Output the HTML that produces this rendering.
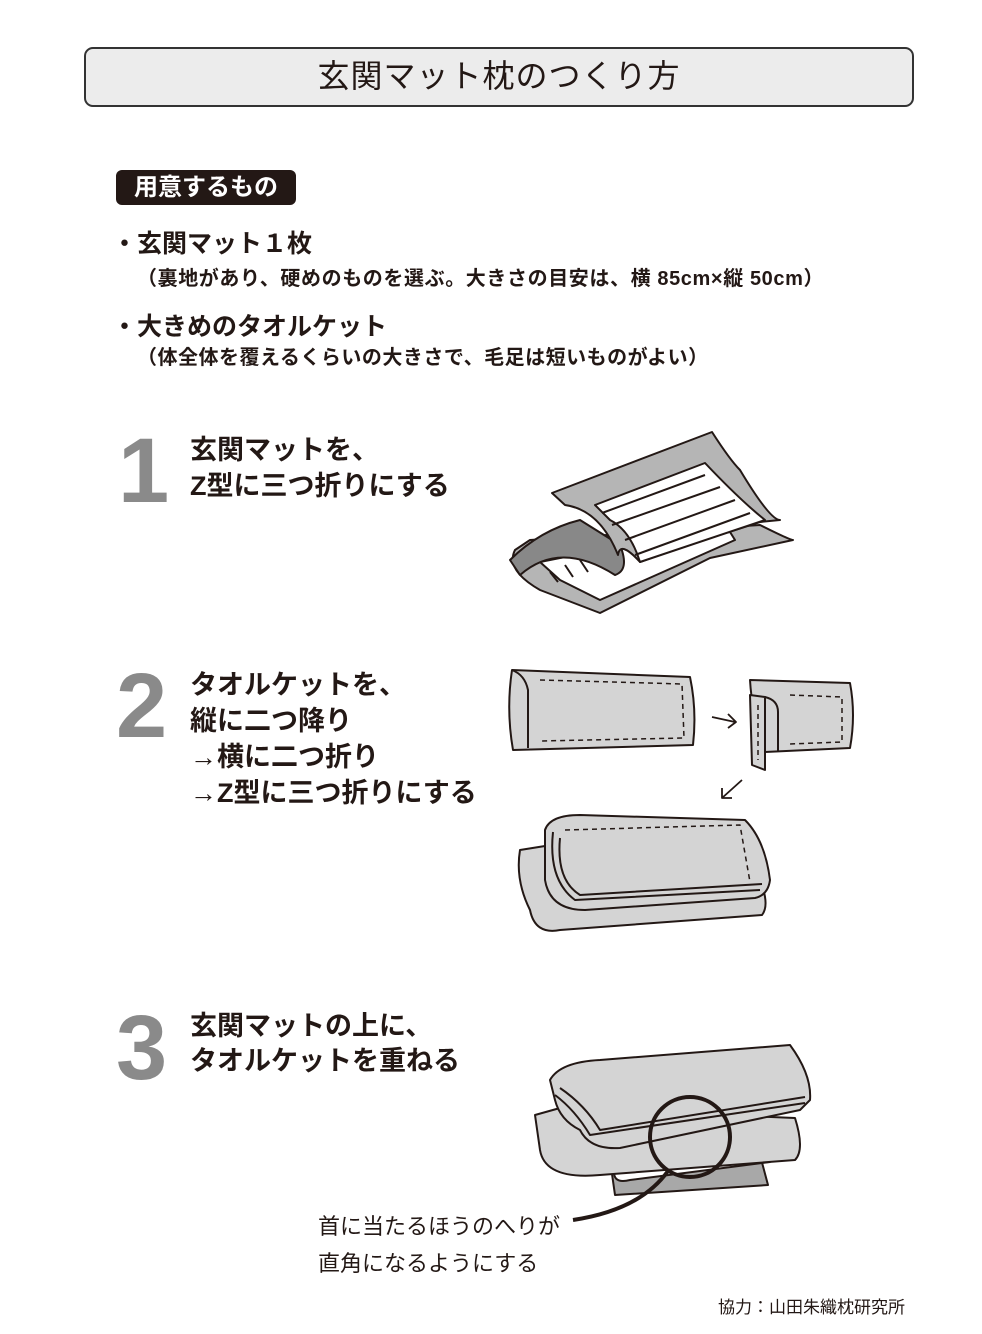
<!DOCTYPE html>
<html><head><meta charset="utf-8"><style>
body{margin:0;background:#fff;}
#p{position:relative;width:982px;height:1334px;overflow:hidden;font-family:"Liberation Sans","Noto Sans CJK JP",sans-serif;color:#231815;}
.a{position:absolute;white-space:nowrap;}
.b{font-weight:bold;}
.n{position:absolute;font-family:"Liberation Sans",sans-serif;font-weight:bold;color:#8a8a8a;font-size:92px;line-height:92px;}
.s{font-size:27px;line-height:36px;font-weight:bold;}
</style></head><body><div id="p">
<div class="a" style="left:84px;top:47px;width:826px;height:56px;border:2px solid #333;border-radius:9px;background:#ececec;"></div>
<div class="a" style="left:84px;top:56px;width:830px;text-align:center;font-size:32px;line-height:40px;letter-spacing:1px;">玄関マット枕のつくり方</div>

<div class="a b" style="left:116px;top:170px;width:180px;height:35px;background:#231815;border-radius:6px;color:#fff;font-size:24px;line-height:35px;text-align:center;">用意するもの</div>
<div class="a b" style="left:112px;top:227px;font-size:25px;line-height:34px;">・玄関マット１枚</div>
<div class="a b" style="left:137px;top:265px;font-size:20px;line-height:28px;letter-spacing:0.6px;">（裏地があり、硬めのものを選ぶ。大きさの目安は、横 85cm×縦 50cm）</div>
<div class="a b" style="left:112px;top:310px;font-size:25px;line-height:34px;">・大きめのタオルケット</div>
<div class="a b" style="left:137px;top:344px;font-size:20px;line-height:28px;letter-spacing:0.5px;">（体全体を覆えるくらいの大きさで、毛足は短いものがよい）</div>

<div class="n" style="left:118px;top:425px;">1</div>
<div class="a s" style="left:190px;top:432px;">玄関マットを、<br>Z型に三つ折りにする</div>
<div class="n" style="left:116px;top:660px;">2</div>
<div class="a s" style="left:190px;top:667px;line-height:36px;">タオルケットを、<br>縦に二つ降り<br><span style="font-weight:normal">→</span>横に二つ折り<br><span style="font-weight:normal">→</span>Z型に三つ折りにする</div>
<div class="n" style="left:116px;top:1002px;">3</div>
<div class="a s" style="left:190px;top:1009px;line-height:35px;">玄関マットの上に、<br>タオルケットを重ねる</div>

<div class="a" style="left:318px;top:1208px;font-size:22px;line-height:37px;">首に当たるほうのへりが<br>直角になるようにする</div>
<div class="a" style="left:718px;top:1296px;font-size:17px;line-height:24px;">協力：山田朱織枕研究所</div>

<svg class="a" style="left:0;top:0" width="982" height="1334" fill="none" stroke="#231815" stroke-width="2" stroke-linejoin="round">
<!-- step1 mat -->
<path d="M530,540 L760,525 Q790,540 793,540 L710,558 L600,613 L540,590 Q505,570 515,550 Z" fill="#b5b5b5"/>
<path d="M540,562 L575,555 L730,532 L735,540 L600,600 L560,580 Z" fill="#fff"/>
<path d="M550,572 l8,10 M565,565 l8,12 M580,560 l8,12 M595,555 l8,12"/>
<path d="M510,560 Q540,530 580,520 L620,545 Q630,570 615,575 Q560,540 520,575 Z" fill="#888"/>
<path d="M552,493 L712,432 Q730,460 740,470 Q770,520 780,520 L760,522 Q720,535 700,540 L640,562 Q620,540 618,555 Q600,510 565,505 Z" fill="#b5b5b5"/>
<path d="M595,505 L705,463 Q740,500 765,520 L640,562 Q630,530 610,520 Z" fill="#fff"/>
<path d="M602,513 L705,475 M612,525 L720,487 M625,540 L735,500 M635,555 L750,513"/>
<!-- step2 towel 1 -->
<path d="M512,670 L690,677 Q697,710 693,745 L513,750 Q506,710 512,670 Z" fill="#d4d4d4"/>
<path d="M512,670 Q525,675 528,690 L528,748" />
<path d="M540,680 L682,684 L684,738 L540,741" stroke-dasharray="5,4" stroke-width="1.5"/>
<path d="M712,717 L735,722 M728,714 L736,722 L728,728" stroke-width="1.8"/>
<!-- towel 2 -->
<path d="M750,680 L850,683 Q856,715 850,748 L765,752 Q752,715 750,680 Z" fill="#d4d4d4"/>
<path d="M750,695 L765,697 L765,770 L752,765 Z" fill="#d4d4d4"/>
<path d="M765,697 Q778,700 778,712 L778,752" />
<path d="M758,705 L758,760 M790,695 L842,697 L842,742 L790,744" stroke-dasharray="5,4" stroke-width="1.5"/>
<path d="M742,780 L722,798 M722,788 L722,798 L732,798" stroke-width="1.8"/>
<!-- towel 3 -->
<path d="M520,850 L545,846 L760,880 Q770,905 762,915 L560,930 Q535,935 530,910 Q515,880 520,850 Z" fill="#d4d4d4"/>
<path d="M545,830 Q550,815 580,815 L745,820 Q765,840 770,880 Q768,895 755,898 L585,910 Q550,910 545,880 Z" fill="#d4d4d4"/>
<path d="M553,832 Q548,880 575,900 L760,890 M560,838 Q556,880 580,895 L762,884"/>
<path d="M565,830 L740,825 L750,882" stroke-dasharray="5,4" stroke-width="1.5"/>
<!-- step3 -->
<path d="M610,1160 L760,1155 L768,1185 L615,1195 Z" fill="#a8a8a8"/>
<path d="M615,1165 Q610,1185 630,1180 L770,1162 Q780,1140 770,1132 L625,1152 Z" fill="#fff"/>
<path d="M535,1115 L560,1108 L795,1118 Q805,1150 795,1160 L600,1175 Q545,1180 540,1150 Z" fill="#d4d4d4"/>
<path d="M550,1080 Q560,1062 600,1060 L790,1045 Q812,1075 810,1100 L800,1110 L620,1148 Q590,1150 580,1130 Q560,1120 555,1100 Z" fill="#d4d4d4"/>
<path d="M555,1095 Q575,1110 590,1135 L805,1103 M560,1088 Q585,1105 600,1130 L805,1097"/>
<circle cx="690" cy="1137" r="40" stroke-width="4"/>
<path d="M668,1171 Q640,1210 573,1220" stroke-width="4"/>
</svg>
</div></body></html>
